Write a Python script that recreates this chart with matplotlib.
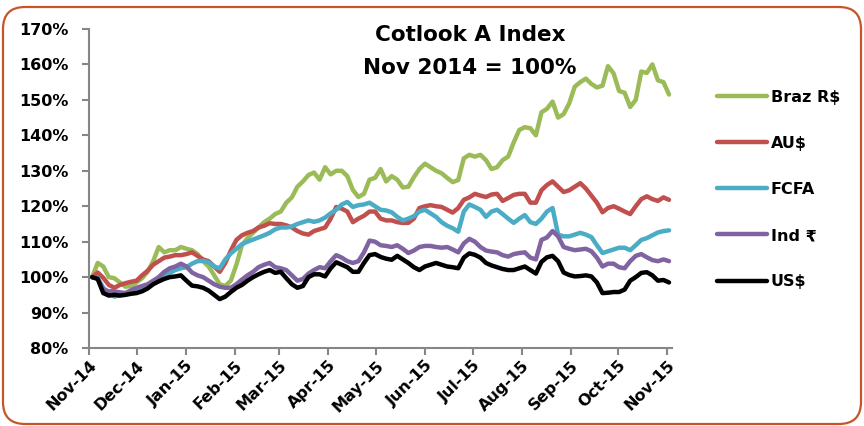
import matplotlib
matplotlib.use("Agg")
import matplotlib.pyplot as plt
import matplotlib.patches as mpatches
import pandas as pd

# readings every 3.5 days, Nov 3 2014 .. Nov 2 2015
dates = pd.date_range("2014-11-03", periods=105, freq="84h")

braz = [100, 104, 103, 100, 99.7, 98.5, 97.3, 97.5, 98.5, 99.7,
        101.5, 104.5, 108.5, 107, 107.6, 107.6, 108.5, 108, 107.6, 106.5,
        104.5, 103, 100.5, 98, 97.5, 99, 103.5, 109, 111, 112.5,
        114, 115.5, 116.5, 117.8, 118.5, 121, 122.5, 125.5, 127, 128.8,
        129.5, 127.5, 131, 129, 130, 130, 128.5, 124.6, 122.6, 123.5,
        127.5, 128, 130.5, 127, 128.5, 127.5, 125.3, 125.5, 128.2, 130.5,
        132, 131, 130, 129.3, 128, 126.8, 127.4, 133.5, 134.5, 134,
        134.5, 133, 130.5, 131, 133, 134, 138, 141.5, 142.3, 142,
        140, 146.5, 147.5, 149.5, 145, 146, 149, 153.7, 155, 156,
        154.5, 153.5, 154, 159.5, 157.5, 152.5, 152, 148, 150, 158,
        157.6, 160, 155.5, 155, 151.5]
aud = [100, 101.3, 99.8, 97.8, 97, 97.8, 98.3, 98.7, 99, 100.5,
       101.8, 103.5, 104.5, 105.5, 105.8, 106.2, 106.2, 106.5, 107, 106,
       105, 104.5, 103, 101.5, 104, 107.5, 110.5, 111.8, 112.5, 113,
       114, 114.5, 115.2, 115, 115, 114.6, 114, 113, 112.3, 112,
       113, 113.5, 114, 116.5, 119.8, 119.3, 118.5, 115.5, 116.5, 117.3,
       118.5, 118.5, 116.5, 116, 116, 115.5, 115.3, 115.3, 116.5, 119.5,
       120, 120.3, 120, 119.8, 119, 118.2, 119.5, 121.8, 122.5, 123.5,
       123, 122.6, 123.3, 123.5, 121.5, 122.3, 123.2, 123.5, 123.5, 121,
       121, 124.5, 126, 127, 125.5, 124, 124.5, 125.5, 126.5, 125,
       123, 121, 118.3, 119.5, 120, 119.3, 118.5, 117.8, 120, 122,
       122.8, 122, 121.5, 122.5, 121.8]
fcfa = [100, 99.7, 97, 95.5, 94.5, 95, 95.4, 96, 96.3, 97,
        97.5, 98.6, 99.5, 100.5, 101.2, 102, 102.5, 102.8, 103.8, 104.5,
        104.6, 104.2, 103, 102.5, 105, 106.7, 108, 109.3, 110, 110.6,
        111.2, 111.8, 112.5, 113.5, 114, 114, 114.3, 115, 115.5, 116,
        115.6, 116, 116.8, 118, 119, 120.5, 121.2, 119.8, 120.3, 120.5,
        121, 120, 119, 118.8, 118.3, 117, 116, 116.5, 117.2, 118.5,
        119, 118, 117, 115.5, 114.5, 113.8, 112.8, 118.5, 120.5, 119.8,
        119, 117, 118.5, 119, 117.8, 116.5, 115.3, 116.5, 117.5, 115.5,
        115, 116.5, 118.5, 119.5, 112, 111.5, 111.5, 112, 112.5, 112,
        111.3, 109, 106.8, 107.3, 107.8, 108.3, 108.3, 107.6, 109, 110.5,
        111, 111.8, 112.6, 113, 113.2]
ind = [100, 99.5, 96.5, 96, 96, 95.7, 95.5, 96.3, 97, 97.5,
       98, 99, 100, 101.5, 102.5, 103, 103.8, 103, 101.3, 100.5,
       100, 99, 98, 97.3, 97, 97, 98, 99.3, 100.5, 101.5,
       102.8, 103.5, 104, 102.8, 102.5, 102, 100.5, 99, 99.5, 101,
       102, 102.8, 102.5, 104.5, 106.2, 105.5, 104.5, 104, 104.5, 107,
       110.3, 110, 109, 108.8, 108.5, 109, 108, 106.8, 107.5, 108.5,
       108.8, 108.8, 108.5, 108.3, 108.5, 107.8, 107, 109.5, 110.8, 110,
       108.5, 107.5, 107.2, 107, 106.2, 105.8, 106.5, 106.8, 107, 105.5,
       105, 110.5, 111.2, 113, 111.5, 108.5, 108, 107.6, 107.8, 108,
       107.3, 105.5, 103, 103.8, 103.8, 102.8, 102.5, 104.5, 106, 106.5,
       105.6, 104.8, 104.5, 105, 104.5]
usd = [100, 99.5, 95.5, 94.8, 95, 94.8, 95, 95.3, 95.5, 96,
       96.8, 98, 98.8, 99.5, 100, 100.2, 100.5, 99, 97.6, 97.4,
       97, 96.2, 95, 93.8, 94.5, 95.8, 97, 97.8, 99, 100,
       100.8, 101.5, 102, 101.2, 101.5, 99.7, 98, 97, 97.5, 100,
       100.8, 100.8, 100.2, 102.5, 104.2, 103.5, 102.8, 101.5, 101.5, 104,
       106.2, 106.5, 105.7, 105.2, 104.9, 106, 105, 104, 102.8, 102,
       103, 103.5, 104, 103.5, 103, 102.8, 102.5, 105.5, 106.7, 106.3,
       105.5, 104, 103.3, 102.8, 102.3, 102, 102, 102.5, 103, 102,
       101, 104.3, 105.6, 106, 104.5, 101.3, 100.6, 100.2, 100.3, 100.5,
       100.2, 98.5, 95.5, 95.6, 95.8, 95.8, 96.5, 99, 100, 101.2,
       101.4, 100.5, 99, 99.2, 98.5]

labels = ["Braz R$", "AU$", "FCFA", "Ind \u20b9", "US$"]
colors = ["#9BBB59", "#C0504D", "#4BACC6", "#8064A2", "#000000"]
series = [braz, aud, fcfa, ind, usd]

yticks = [80, 90, 100, 110, 120, 130, 140, 150, 160, 170]

fig = plt.figure(figsize=(8.64, 4.26), dpi=100)
fig.patch.set_facecolor("white")
ax = fig.add_axes([0.103, 0.183, 0.675, 0.749])

lines = []
for s, c, l in zip(series, colors, labels):
    ln, = ax.plot(dates, s, color=c, lw=3.2, label=l, solid_joinstyle="round",
                  solid_capstyle="round")
    lines.append(ln)

ax.set_ylim(80, 170)
ax.set_xlim(pd.Timestamp("2014-11-01"), pd.Timestamp("2015-11-04"))
months = pd.date_range("2014-11-01", "2015-11-01", freq="MS")

for sp in ["top", "right"]:
    ax.spines[sp].set_visible(False)
for sp in ["left", "bottom"]:
    ax.spines[sp].set_color("#868686")
    ax.spines[sp].set_linewidth(1.5)
ax.tick_params(axis="both", colors="#868686", labelcolor="black", length=5,
               width=1.5, direction="out", labelsize=11.5)
ax.tick_params(axis="x", pad=2)
ax.tick_params(axis="y", pad=10)

ax.set_yticks(yticks)
ax.set_yticklabels([f"{v}%" for v in yticks], fontweight="bold", fontsize=11.5)
ax.set_xticks(months)
ax.set_xticklabels([m.strftime("%b-%y") for m in months], rotation=45, ha="right",
                   rotation_mode="anchor", fontweight="bold", fontsize=11.5)

fig.text(0.544, 0.917, "Cotlook A Index", ha="center", va="center",
         fontsize=15.5, fontweight="bold")
fig.text(0.544, 0.840, "Nov 2014 = 100%", ha="center", va="center",
         fontsize=15.5, fontweight="bold")

leg = fig.legend(handles=lines, labels=labels, loc="upper left",
                 bbox_to_anchor=(0.8135, 0.8235), frameon=False, handlelength=3.1,
                 handletextpad=0.25, labelspacing=1.95,
                 prop={"weight": "bold", "size": 11.5})

border = mpatches.FancyBboxPatch((3, 2), 858, 417,
                                 boxstyle="round,pad=0,rounding_size=22",
                                 transform=None, fill=False, edgecolor="#C8552A",
                                 linewidth=1.6)
fig.patches.append(border)

fig.savefig("out.png", dpi=100, facecolor="white")
